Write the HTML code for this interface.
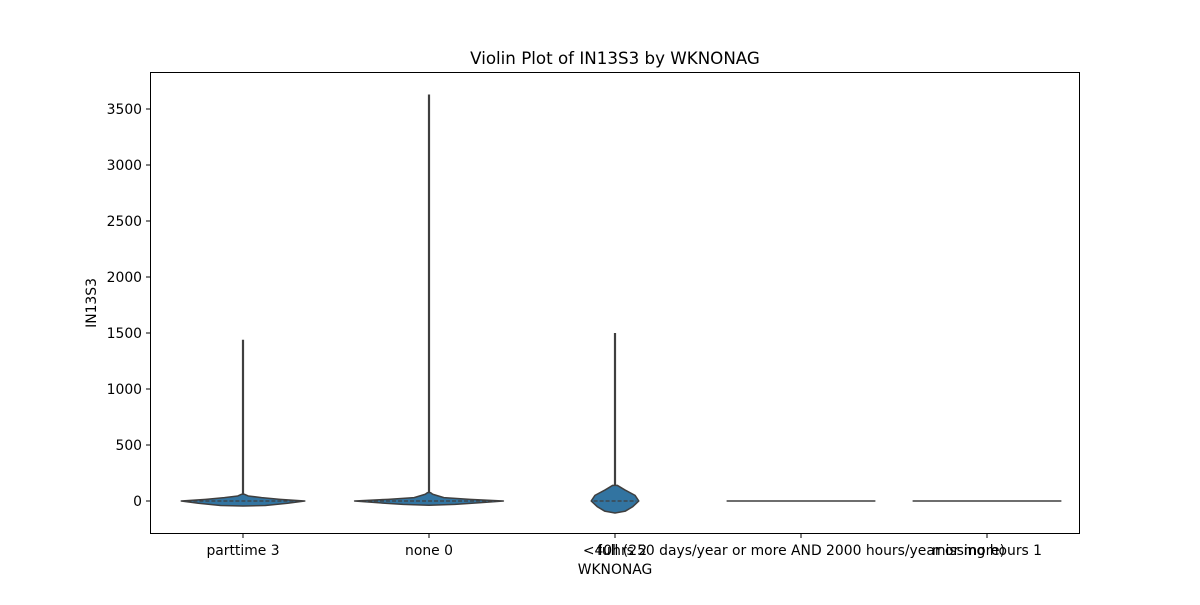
<!DOCTYPE html>
<html><head><meta charset="utf-8"><style>
body{margin:0;background:#fff;font-family:"Liberation Sans","DejaVu Sans",sans-serif}
svg text{font-family:"DejaVu Sans","Liberation Sans",sans-serif;fill:#000}
</style></head><body>
<svg id="chart" width="1200" height="600" xmlns="http://www.w3.org/2000/svg">
<rect width="1200" height="600" fill="#fff"/>
<text x="615" y="64" text-anchor="middle" font-size="16.7">Violin Plot of IN13S3 by WKNONAG</text>
<g id="plot"></g>
<rect x="150.5" y="72.5" width="929" height="461" fill="none" stroke="#000" stroke-width="1"/>
<text x="615" y="574" text-anchor="middle" font-size="13.9">WKNONAG</text>
<text transform="translate(96,303) rotate(-90)" text-anchor="middle" font-size="13.9">IN13S3</text>
</svg>
<script>
const categories=["parttime 3","none 0","<40hrs 2","full (250 days/year or more AND 2000 hours/year or more)","missing hours 1"];
const maxValues=[1440,3630,1500,0,0];
const medians=[0,0,0,0,0];
// density profiles: [value, relative half-width]
const profile0=[[-45,0],[-40,0.3],[-20,0.6],[0,0.83],[15,0.5],[30,0.25],[45,0.07],[60,0.02]];
const profile1=[[-38,0],[-30,0.35],[-15,0.7],[0,1],[15,0.55],[30,0.2],[60,0.05],[75,0.02]];
const profile2=[[-107,0],[-90,0.14],[-50,0.24],[0,0.32],[50,0.27],[100,0.13],[140,0.03]];
const profile3=[[0,1]];
const profile4=[[0,1]];
const profiles=[profile0,profile1,profile2,profile3,profile4];
const yTicks=[0,500,1000,1500,2000,2500,3000,3500];

const ns="http://www.w3.org/2000/svg";
const g=document.getElementById('plot');
const pLeft=150,pRight=1080,pTop=72,pBottom=534;
const bw=(pRight-pLeft)/categories.length;
const xC=i=>pLeft+bw*(i+0.5);
const yS=v=>501-v*0.112;
const halfMax=bw*0.4;
function mk(t,a){const e=document.createElementNS(ns,t);for(const k in a)e.setAttribute(k,a[k]);g.appendChild(e);return e;}

yTicks.forEach(t=>{
  const y=yS(t);
  const l=mk('line',{x1:pLeft-4,x2:pLeft,y1:y,y2:y,stroke:'#000'});
  
  
  const tx=mk('text',{x:pLeft-8,y:y+5,'text-anchor':'end','font-size':'13.9'});
  tx.textContent=t;
  
  
});
categories.forEach((c,i)=>{
  const x=xC(i);
  const l=mk('line',{x1:x,x2:x,y1:pBottom,y2:pBottom+4,stroke:'#000'});
  
  
  const tx=mk('text',{x:x,y:pBottom+21,'text-anchor':'middle','font-size':'13.9'});
  tx.textContent=c;
  
  
  const p=profiles[i];
  if(p.length===1){
    const f=mk('line',{x1:x-halfMax,x2:x+halfMax,y1:yS(p[0][0]),y2:yS(p[0][0]),stroke:'#3f3f3f','stroke-width':1.5});
    
    
    return;
  }
  const w=mk('line',{x1:x,x2:x,y1:yS(p[p.length-1][0]),y2:yS(maxValues[i]),stroke:'#3f3f3f','stroke-width':2.2});
  
  
  let d='';
  p.forEach((q,j)=>{d+=(j?'L':'M')+(x+q[1]*halfMax)+','+yS(q[0]);});
  for(let j=p.length-1;j>=0;j--){d+='L'+(x-p[j][1]*halfMax)+','+yS(p[j][0]);}
  const v=mk('path',{d:d+'Z',fill:'#3274a1',stroke:'#3f3f3f','stroke-width':1.5,'stroke-linejoin':'round'});
  
  
  const mw=p.reduce((a,q)=>Math.max(a,q[1]),0)*halfMax*0.9;
  const m=mk('line',{x1:x-mw,x2:x+mw,y1:yS(medians[i]),y2:yS(medians[i]),stroke:'#3f3f3f','stroke-width':1.2,'stroke-dasharray':'4 2'});
  
  
});
</script>
</body></html>
